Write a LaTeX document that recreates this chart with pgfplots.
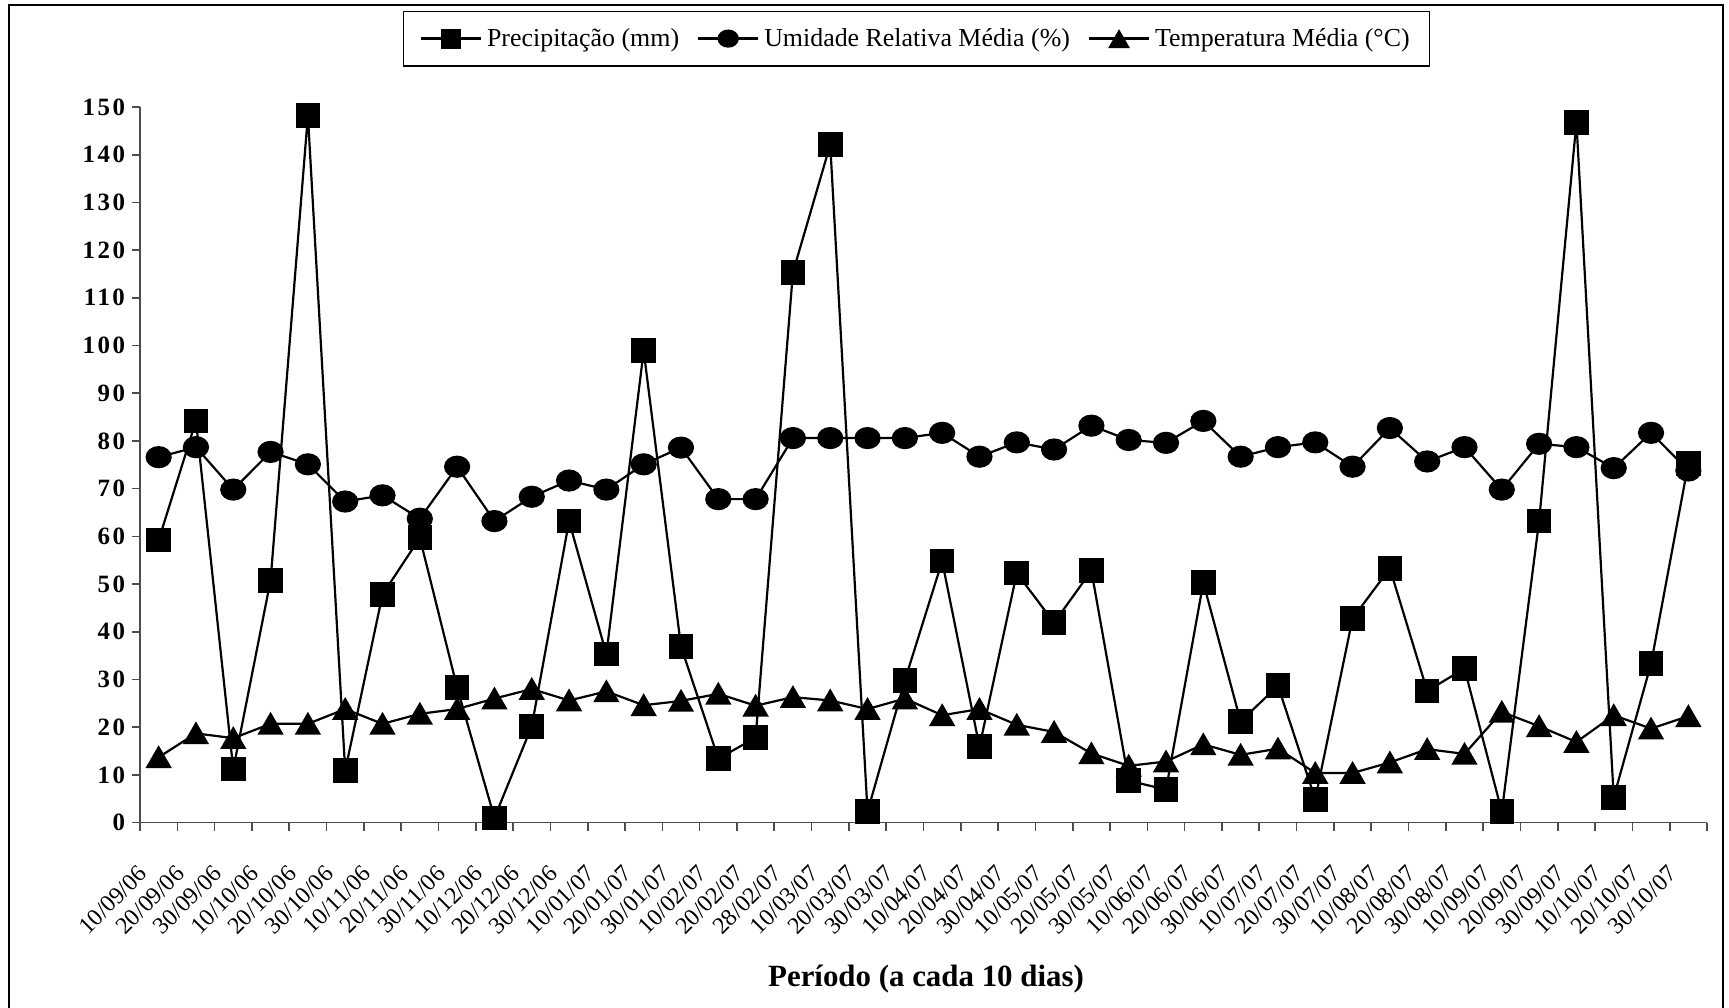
\documentclass[border=0pt]{standalone}
\usepackage{pgfplots}
\pgfplotsset{compat=1.18}
\usepackage{fontspec}
\setmainfont{Liberation Serif}
\pgfplotstableread{
x p h t
1 59.2 76.6 13.7
2 84.2 78.7 18.7
3 11.2 69.8 17.7
4 50.8 77.7 20.7
5 148.2 75.1 20.7
6 10.9 67.3 23.8
7 47.8 68.6 20.7
8 59.7 63.7 22.8
9 28.3 74.6 23.8
10 1.0 63.2 26.0
11 20.2 68.3 28.0
12 63.2 71.7 25.6
13 35.3 69.8 27.5
14 98.9 75.1 24.6
15 36.9 78.6 25.5
16 13.4 67.8 27.0
17 17.8 67.8 24.5
18 115.3 80.6 26.3
19 142.1 80.6 25.6
20 2.3 80.6 23.8
21 29.8 80.6 26.0
22 54.8 81.7 22.5
23 15.9 76.7 23.8
24 52.3 79.7 20.5
25 41.9 78.2 19.0
26 52.8 83.2 14.5
27 8.8 80.2 11.9
28 6.9 79.6 12.8
29 50.3 84.2 16.4
30 21.2 76.7 14.2
31 28.7 78.7 15.5
32 4.9 79.7 10.4
33 42.8 74.6 10.4
34 53.3 82.7 12.6
35 27.6 75.7 15.4
36 32.3 78.7 14.4
37 2.3 69.8 23.2
38 63.2 79.4 20.2
39 146.8 78.7 16.9
40 5.3 74.3 22.5
41 33.3 81.7 19.7
42 75.3 73.8 22.3
}\datatable
\begin{document}
\begin{tikzpicture}
\path[use as bounding box] (-70bp,-92.7bp) rectangle (794.5bp,411.3bp);
\fill[white] (-70bp,-92.7bp) rectangle (794.5bp,411.3bp);
\draw[line width=0.8bp] (-65.5bp,-100bp) rectangle (791.5bp,408.8bp);
\begin{axis}[
  at={(0,0)}, anchor=south west,
  scale only axis, width=783.5bp, height=357.8bp,
  xmin=0.5, xmax=42.5, ymin=0, ymax=150,
  axis lines*=left,
  axis line style={black!70, line width=0.8bp},
  xtick={1,...,42},
  xticklabels={10/09/06,20/09/06,30/09/06,10/10/06,20/10/06,30/10/06,10/11/06,20/11/06,30/11/06,10/12/06,20/12/06,30/12/06,10/01/07,20/01/07,30/01/07,10/02/07,20/02/07,28/02/07,10/03/07,20/03/07,30/03/07,10/04/07,20/04/07,30/04/07,10/05/07,20/05/07,30/05/07,10/06/07,20/06/07,30/06/07,10/07/07,20/07/07,30/07/07,10/08/07,20/08/07,30/08/07,10/09/07,20/09/07,30/09/07,10/10/07,20/10/07,30/10/07},
  major x tick style={draw=none},
  minor xtick={0.5,1.5,...,42.5},
  ytick={0,10,...,150},
  tick align=outside,
  major tick length=4bp, minor tick length=4bp,
  tick style={black!70, line width=0.8bp},
  xticklabel style={font=\fontsize{12}{13}\selectfont, anchor=north east, inner sep=0pt, xshift=-10.8bp, yshift=-16.5bp, rotate=45},
  yticklabel style={font=\bfseries\fontsize{12.5}{13}\selectfont\addfontfeature{LetterSpace=10}},
  /pgf/number format/assume math mode=true,
  xlabel={Período (a cada 10 dias)},
  xlabel style={font=\bfseries\fontsize{15.5}{18}\selectfont, at={(axis description cs:0.5016,-0.2188)}, anchor=center},
  legend style={at={(0.4957,1.0956)}, anchor=center, draw=black, line width=0.6bp, font=\fontsize{13}{15}\selectfont, inner xsep=8bp, inner ysep=6.5bp, /tikz/every even column/.append style={column sep=7bp}, /tikz/every odd column/.append style={column sep=0.5bp}},
  legend columns=3,
  legend image code/.code={\draw[mark repeat=2,mark phase=2,every mark/.append style={scale=0.8}] plot coordinates {(0bp,0bp) (15bp,0bp) (30bp,0bp)};},
  clip=false,
]
\addplot[black, line width=1.1bp, mark=square*, mark size=5.6bp, mark options={solid, fill=black}] table[x=x, y=p] {\datatable};
\addplot[black, line width=1.1bp, mark=*, mark size=5bp, mark options={solid, fill=black, xscale=1.2}] table[x=x, y=h] {\datatable};
\addplot[black, line width=1.1bp, mark=triangle*, mark size=6.5bp, mark options={solid, fill=black, yshift=-1.6bp}] table[x=x, y=t] {\datatable};
\legend{Precipitação (mm), Umidade Relativa Média (\%), Temperatura Média (°C)}
\end{axis}
\end{tikzpicture}
\end{document}
